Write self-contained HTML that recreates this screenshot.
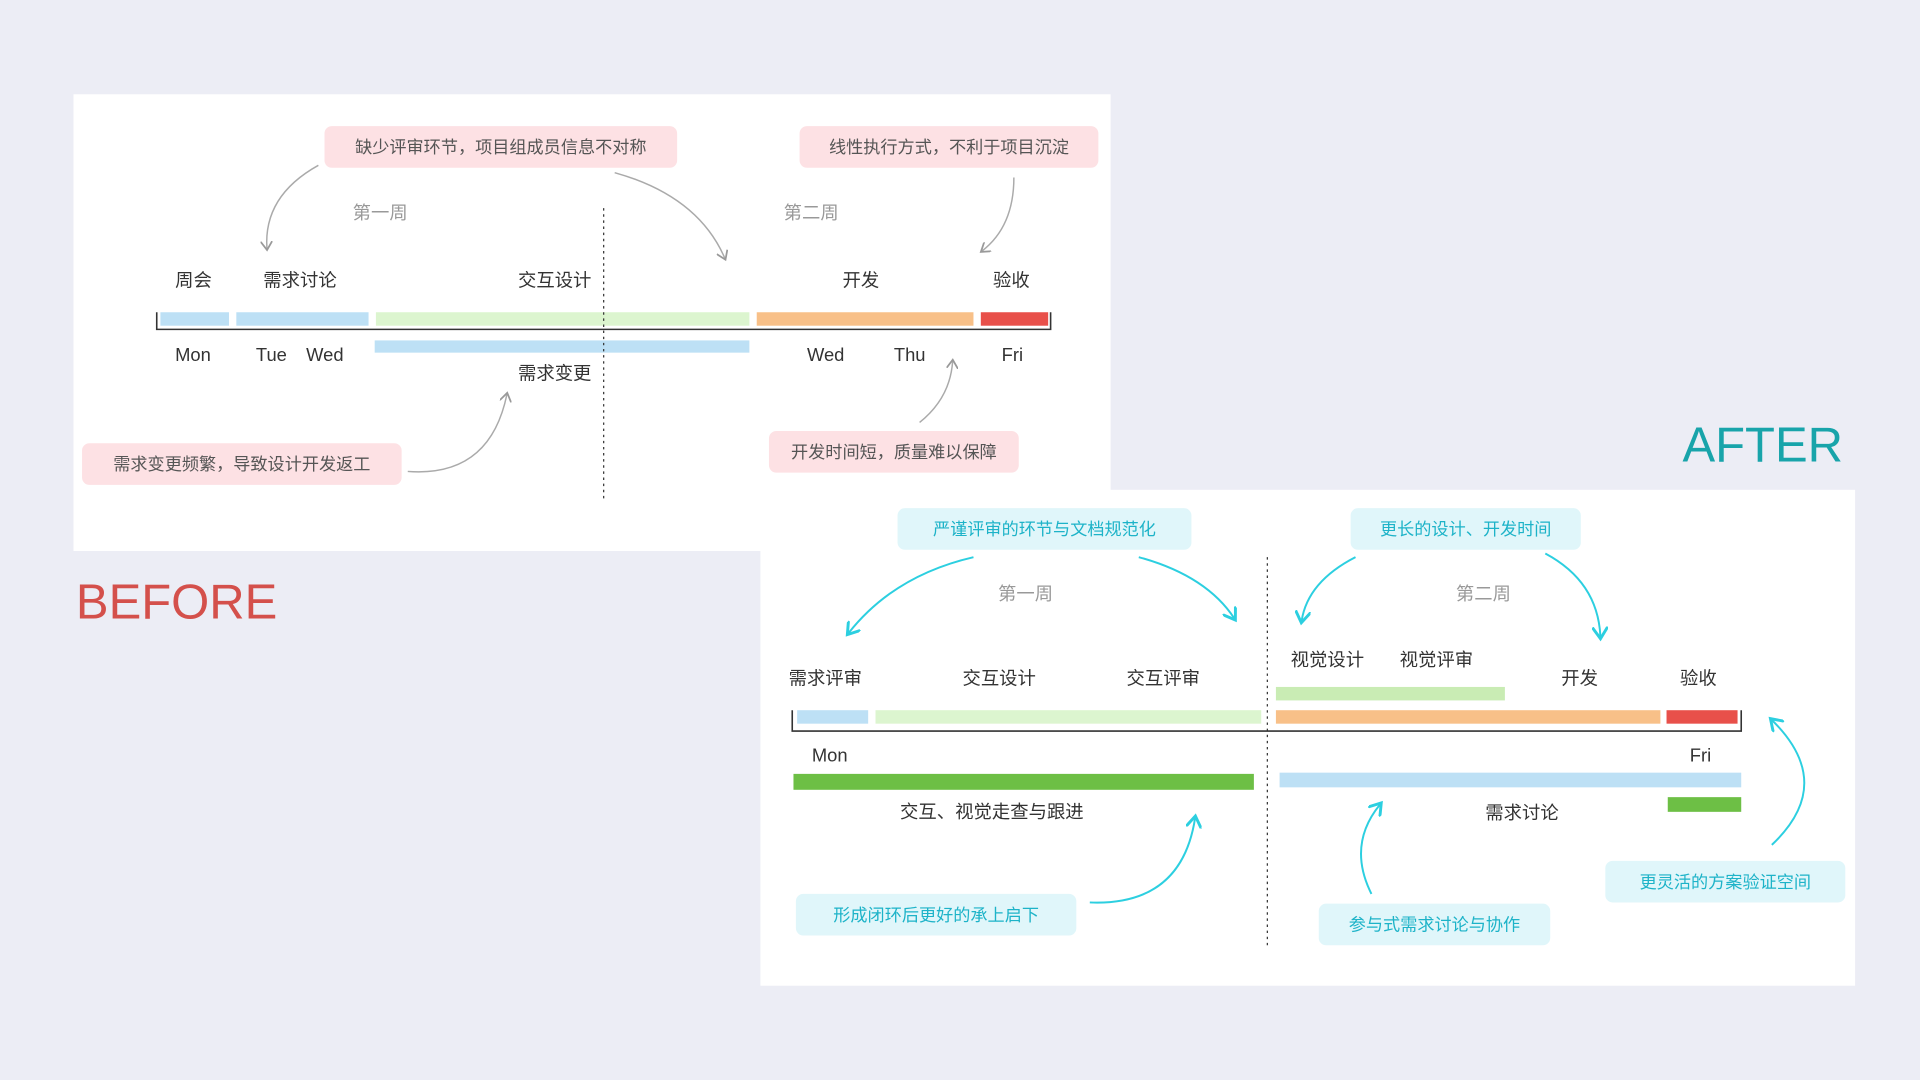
<!DOCTYPE html>
<html><head><meta charset="utf-8"><style>
html,body{margin:0;padding:0;width:1920px;height:1080px;overflow:hidden;background:#ecedf5}
#w{position:absolute;left:0;top:0;width:1568px;height:882px;transform:scale(1.22449);transform-origin:0 0;font-family:"Liberation Sans","Noto Sans CJK SC",sans-serif}
.p{position:absolute;background:#fff}
.t{position:absolute;font-size:15px;color:#333;white-space:nowrap;line-height:1}
.g{color:#999}
.pk{position:absolute;background:#fde1e4;color:#555;font-size:14px;border-radius:6px;display:flex;align-items:center;justify-content:center;white-space:nowrap}
.cy{position:absolute;background:#e0f6fa;color:#1db3c8;font-size:14px;border-radius:6px;display:flex;align-items:center;justify-content:center;white-space:nowrap}
.b{position:absolute}
</style></head><body><div id="w">
<div class="p" style="left:60px;top:77px;width:847px;height:373px"></div>
<div class="p" style="left:621px;top:400px;width:894px;height:405px"></div>
<div class="t" style="left:62px;top:472px;font-size:40px;color:#d4504b">BEFORE</div>
<div class="t" style="left:1374px;top:344px;font-size:40px;color:#18a4aa">AFTER</div>

<!-- BEFORE -->
<div class="pk" style="left:265px;top:103px;width:288px;height:34px">缺少评审环节，项目组成员信息不对称</div>
<div class="pk" style="left:653px;top:103px;width:244px;height:34px">线性执行方式，不利于项目沉淀</div>
<div class="pk" style="left:67px;top:362px;width:261px;height:34px">需求变更频繁，导致设计开发返工</div>
<div class="pk" style="left:628px;top:352px;width:204px;height:34px">开发时间短，质量难以保障</div>
<div class="t g" style="left:288px;top:167px">第一周</div>
<div class="t g" style="left:640px;top:167px">第二周</div>
<div class="t" style="left:143px;top:222px">周会</div>
<div class="t" style="left:215px;top:222px">需求讨论</div>
<div class="t" style="left:423px;top:222px">交互设计</div>
<div class="t" style="left:688px;top:222px">开发</div>
<div class="t" style="left:811px;top:222px">验收</div>
<div class="b" style="left:131px;top:255px;width:56px;height:11px;background:#bde0f5"></div>
<div class="b" style="left:193px;top:255px;width:108px;height:11px;background:#bde0f5"></div>
<div class="b" style="left:307px;top:255px;width:305px;height:11px;background:#dcf5cf"></div>
<div class="b" style="left:618px;top:255px;width:177px;height:11px;background:#f8c088"></div>
<div class="b" style="left:801px;top:255px;width:55px;height:11px;background:#e8504a"></div>
<div class="b" style="left:306px;top:278px;width:306px;height:10px;background:#bde0f5"></div>
<div class="t" style="left:143px;top:283px">Mon</div>
<div class="t" style="left:209px;top:283px">Tue</div>
<div class="t" style="left:250px;top:283px">Wed</div>
<div class="t" style="left:659px;top:283px">Wed</div>
<div class="t" style="left:730px;top:283px">Thu</div>
<div class="t" style="left:818px;top:283px">Fri</div>
<div class="t" style="left:423px;top:298px">需求变更</div>

<!-- AFTER -->
<div class="cy" style="left:733px;top:415px;width:240px;height:34px">严谨评审的环节与文档规范化</div>
<div class="cy" style="left:1103px;top:415px;width:188px;height:34px">更长的设计、开发时间</div>
<div class="cy" style="left:650px;top:730px;width:229px;height:34px">形成闭环后更好的承上启下</div>
<div class="cy" style="left:1077px;top:738px;width:189px;height:34px">参与式需求讨论与协作</div>
<div class="cy" style="left:1311px;top:703px;width:196px;height:34px">更灵活的方案验证空间</div>
<div class="t g" style="left:815px;top:478px">第一周</div>
<div class="t g" style="left:1189px;top:478px">第二周</div>
<div class="t" style="left:644px;top:547px">需求评审</div>
<div class="t" style="left:786px;top:547px">交互设计</div>
<div class="t" style="left:920px;top:547px">交互评审</div>
<div class="t" style="left:1054px;top:532px">视觉设计</div>
<div class="t" style="left:1143px;top:532px">视觉评审</div>
<div class="t" style="left:1275px;top:547px">开发</div>
<div class="t" style="left:1372px;top:547px">验收</div>
<div class="b" style="left:1042px;top:561px;width:187px;height:11px;background:#c9ecb4"></div>
<div class="b" style="left:651px;top:580px;width:58px;height:11px;background:#bde0f5"></div>
<div class="b" style="left:715px;top:580px;width:315px;height:11px;background:#dcf5cf"></div>
<div class="b" style="left:1042px;top:580px;width:314px;height:11px;background:#f8c088"></div>
<div class="b" style="left:1361px;top:580px;width:58px;height:11px;background:#e8504a"></div>
<div class="t" style="left:663px;top:610px">Mon</div>
<div class="t" style="left:1380px;top:610px">Fri</div>
<div class="b" style="left:648px;top:632px;width:376px;height:13px;background:#6dbf45"></div>
<div class="b" style="left:1045px;top:631px;width:377px;height:12px;background:#bde0f5"></div>
<div class="b" style="left:1362px;top:651px;width:60px;height:12px;background:#6dbf45"></div>
<div class="t" style="left:735px;top:656px">交互、视觉走查与跟进</div>
<div class="t" style="left:1213px;top:657px">需求讨论</div>

<svg class="b" style="left:0;top:0" width="1568" height="882" viewBox="0 0 1568 882">
<defs>
<marker id="ag" markerWidth="8" markerHeight="8" refX="5" refY="4" orient="auto"><path d="M0,0 L6,4 L0,8" fill="none" stroke="#999" stroke-width="1.2"/></marker>
<marker id="ac" markerWidth="8" markerHeight="8" refX="5" refY="4" orient="auto"><path d="M0,0 L6,4 L0,8" fill="none" stroke="#2ccfe0" stroke-width="1.5"/></marker>
</defs>
<g fill="none" stroke="#333" stroke-width="1.3">
<path d="M128,255 V269 H858 V255"/>
<path d="M647,580 V597 H1422 V580"/>
</g>
<g stroke="#333" stroke-width="1" stroke-dasharray="2,3">
<line x1="493" y1="170" x2="493" y2="410"/>
<line x1="1035" y1="455" x2="1035" y2="775"/>
</g>
<g fill="none" stroke="#aaa" stroke-width="1.2" marker-end="url(#ag)">
<path d="M260,135 Q215,160 218,203"/>
<path d="M502,141 Q570,160 592,211"/>
<path d="M828,145 Q828,185 802,205"/>
<path d="M333,385 Q400,390 414,322"/>
<path d="M751,345 Q776,325 778,295"/>
</g>
<g fill="none" stroke="#2ccfe0" stroke-width="1.6" marker-end="url(#ac)">
<path d="M795,455 Q730,470 693,517"/>
<path d="M930,455 Q985,470 1008,505"/>
<path d="M1107,455 Q1068,475 1063,507"/>
<path d="M1262,452 Q1305,475 1307,520"/>
<path d="M890,737 Q965,740 976,668"/>
<path d="M1120,730 Q1100,690 1127,657"/>
<path d="M1447,690 Q1500,640 1447,588"/>
</g>
</svg>
</div></body></html>
